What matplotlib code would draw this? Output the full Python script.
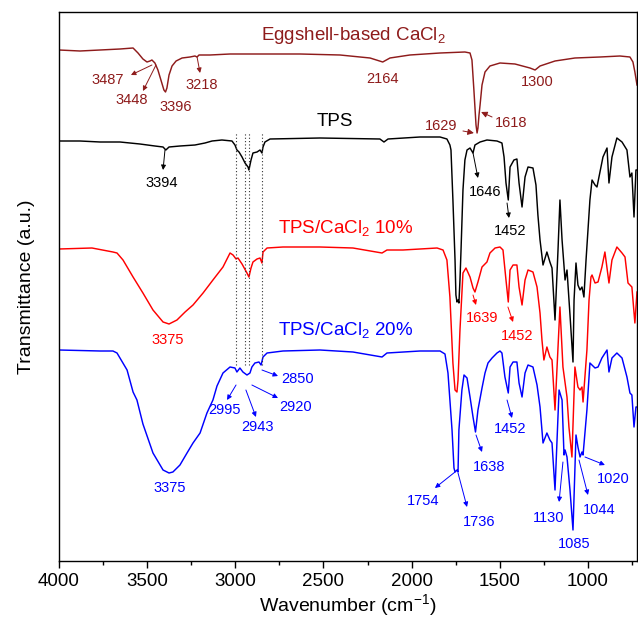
import numpy as np
import matplotlib
matplotlib.use("Agg")
import matplotlib.pyplot as plt

plt.rcParams['font.family'] = ['Liberation Sans', 'DejaVu Sans']
plt.rcParams['mathtext.default'] = 'regular'

# ---------------- data (wavenumber cm-1, transmittance a.u.) ----------------
egg_w = [4000, 3881, 3767, 3654, 3580, 3552, 3524, 3501, 3484, 3473, 3456, 3439, 3422, 3405,
         3396, 3388, 3376, 3359, 3336, 3302, 3257, 3229, 3217, 3206, 3144, 3030, 2860, 2633,
         2406, 2236, 2164, 2123, 2010, 1839, 1698, 1669, 1658, 1647, 1635, 1629, 1624, 1618,
         1612, 1601, 1584, 1556, 1499, 1414, 1329, 1300, 1272, 1187, 1074, 932, 819, 762,
         745, 734, 722]
egg_t = [511, 510, 511, 512, 513, 508, 502, 499, 500, 501, 498, 491, 481, 471,
         469, 473, 486, 495, 500, 503, 504, 505, 504, 506, 506, 507, 507, 507,
         506, 503, 499, 503, 506, 508, 509, 508, 501, 471, 436, 428, 433, 446,
         456, 476, 489, 495, 498, 497, 493, 491, 495, 500, 503, 504, 505, 504,
         499, 489, 476]

tps_w = [4000, 3881, 3767, 3654, 3541, 3456, 3410, 3394, 3376, 3314, 3229, 3172, 3132, 3076,
         3019, 3002, 2991, 2979, 2962, 2945, 2928, 2923, 2911, 2900, 2877, 2860, 2849, 2843,
         2832, 2803, 2520, 2180, 2157, 2134, 1953, 1839, 1800, 1783, 1777, 1766, 1754, 1749,
         1743, 1737, 1732, 1726, 1720, 1709, 1698, 1686, 1669, 1652, 1641, 1612, 1573, 1516,
         1488, 1476, 1465, 1452, 1442, 1420, 1403, 1391, 1374, 1357, 1340, 1312, 1295, 1284,
         1272, 1255, 1233, 1216, 1204, 1187, 1170, 1159, 1147, 1130, 1119, 1102, 1085, 1079,
         1068, 1057, 1045, 1034, 1023, 1011, 1000, 989, 977, 960, 949, 932, 915, 892, 881,
         864, 836, 807, 779, 762, 751, 739, 728, 722]
tps_t = [420, 420, 419, 419, 417, 415, 414, 411, 414, 415, 416, 418, 420, 421,
         420, 416, 411, 409, 404, 398, 394, 391, 401, 408, 409, 411, 408, 414,
         419, 422, 423, 422, 419, 422, 424, 424, 422, 416, 411, 361, 301, 266,
         259, 261, 258, 281, 311, 371, 401, 411, 413, 408, 416, 419, 421, 420,
         418, 404, 378, 361, 394, 401, 402, 378, 354, 384, 394, 393, 376, 346,
         321, 296, 309, 299, 293, 241, 311, 361, 321, 281, 291, 246, 199, 261,
         298, 276, 271, 274, 264, 301, 331, 361, 381, 376, 374, 389, 404, 413, 378,
         404, 423, 419, 411, 384, 388, 344, 391, 391]

r10_w = [4000, 3813, 3694, 3671, 3637, 3580, 3524, 3467, 3410, 3376, 3331, 3285, 3240, 3183,
         3127, 3070, 3030, 3013, 2996, 2985, 2962, 2934, 2923, 2911, 2900, 2877, 2860, 2849,
         2843, 2820, 2730, 2520, 2333, 2168, 2140, 2049, 1856, 1822, 1800, 1783, 1766, 1754,
         1743, 1737, 1726, 1709, 1692, 1669, 1652, 1641, 1624, 1601, 1573, 1556, 1527, 1499,
         1482, 1465, 1452, 1442, 1425, 1403, 1391, 1374, 1357, 1340, 1312, 1289, 1272, 1261,
         1250, 1233, 1216, 1204, 1187, 1159, 1142, 1119, 1108, 1091, 1074, 1057, 1045, 1034,
         1028, 1006, 994, 983, 977, 960, 943, 921, 904, 881, 864, 836, 807, 790, 773, 751,
         734, 722]
r10_t = [312, 313, 309, 308, 301, 284, 268, 251, 239, 237, 241, 249, 256, 268,
         281, 294, 308, 306, 302, 303, 297, 288, 284, 293, 299, 302, 303, 298,
         309, 313, 314, 314, 313, 308, 311, 311, 313, 311, 301, 264, 198, 171,
         169, 181, 231, 288, 293, 284, 273, 269, 279, 294, 299, 308, 313, 314,
         311, 281, 259, 291, 296, 296, 274, 256, 281, 291, 289, 274, 248, 221,
         201, 214, 204, 201, 151, 254, 194, 164, 134, 104, 194, 174, 171, 174,
         159, 211, 261, 284, 286, 278, 279, 294, 309, 278, 301, 314, 308, 304, 278, 274,
         238, 269]

r20_w = [4000, 3767, 3694, 3671, 3614, 3580, 3558, 3524, 3467, 3410, 3376, 3354, 3314, 3274,
         3240, 3200, 3161, 3127, 3104, 3070, 3030, 3002, 2991, 2974, 2957, 2934, 2917, 2906,
         2889, 2866, 2854, 2843, 2820, 2730, 2520, 2333, 2168, 2140, 1953, 1839, 1811, 1794,
         1771, 1760, 1754, 1743, 1737, 1732, 1715, 1703, 1686, 1669, 1652, 1638, 1624, 1601,
         1584, 1567, 1544, 1516, 1499, 1488, 1471, 1452, 1442, 1425, 1403, 1391, 1374, 1357,
         1340, 1312, 1289, 1272, 1255, 1233, 1216, 1204, 1187, 1164, 1147, 1136, 1130, 1119,
         1102, 1085, 1068, 1057, 1045, 1034, 1028, 1006, 989, 960, 943, 921, 892, 881, 864,
         836, 807, 779, 762, 751, 739, 728, 722]
r20_t = [211, 210, 210, 208, 191, 169, 161, 137, 108, 91, 88, 89, 96, 108,
         118, 128, 148, 161, 175, 188, 194, 193, 189, 193, 189, 186, 188, 194,
         198, 199, 196, 204, 208, 210, 211, 209, 204, 208, 210, 210, 207, 188,
         131, 93, 89, 91, 89, 131, 171, 186, 183, 164, 144, 129, 151, 173,
         188, 198, 203, 208, 210, 208, 184, 168, 194, 199, 199, 178, 164, 188,
         196, 194, 176, 154, 118, 128, 121, 118, 71, 171, 161, 106, 111, 104,
         71, 31, 126, 114, 104, 109, 106, 151, 198, 193, 194, 203, 211, 189, 203,
         208, 203, 184, 168, 166, 134, 154, 154]

dotted_w = [2995, 2943, 2920, 2850]

series_names = ['Eggshell-based CaCl$_2$', 'TPS', 'TPS/CaCl$_2$ 10%', 'TPS/CaCl$_2$ 20%']
colors = ['#8E1B1B', '#000000', '#FF0000', '#0000FF']

# ---------------- figure ----------------
fig = plt.figure(figsize=(6.38, 6.19), dpi=100)
ax = fig.add_axes([59/638, 1 - 561/619, (637 - 59)/638, (561 - 12)/619])

for w, t, c in zip([egg_w, tps_w, r10_w, r20_w], [egg_t, tps_t, r10_t, r20_t], colors):
    ax.plot(w, t, color=c, lw=1.05, solid_joinstyle='round')

for d in dotted_w:
    ax.plot([d, d], [196, 429], color='#333333', lw=0.8, ls=(0, (1, 2)))

ax.set_xlim(4000, 722)
ax.set_ylim(0, 549)
ax.set_xticks([4000, 3500, 3000, 2500, 2000, 1500, 1000])
ax.set_xticks(np.arange(3750, 722, -500), minor=True)
ax.tick_params(axis='x', which='major', direction='out', length=5, width=1, labelsize=13.5)
ax.tick_params(axis='x', which='minor', direction='out', length=3, width=1)
ax.set_yticks([])
for s in ax.spines.values():
    s.set_linewidth(1.0)
ax.set_xlabel('Wavenumber (cm$^{-1}$)', fontsize=14, labelpad=2)
ax.set_ylabel('Transmittance (a.u.)', fontsize=14, labelpad=17)

# series labels
ax.text(2330, 526, series_names[0], color=colors[0], fontsize=13.5, ha='center', va='center')
ax.text(2435, 439, series_names[1], color=colors[1], fontsize=13.5, ha='center', va='center')
ax.text(2372, 333, series_names[2], color=colors[2], fontsize=13.5, ha='center', va='center')
ax.text(2372, 231, series_names[3], color=colors[3], fontsize=13.5, ha='center', va='center')

def lab(s, x, y, c):
    ax.text(x, y, s, color=c, fontsize=10.5, ha='center', va='center')

def arr(tail, head, c, lw=0.7, ms=7):
    ax.annotate('', xy=head, xytext=tail,
                arrowprops=dict(arrowstyle='-|>', color=c, lw=lw, mutation_scale=ms,
                                shrinkA=0, shrinkB=0))

ce, cb, cr, cu = colors
# eggshell
lab('3487', 3722, 481, ce); arr((3473, 496), (3592, 486), ce)
lab('3448', 3586, 461, ce); arr((3450, 496), (3524, 470), ce)
lab('3396', 3336, 454, ce)
lab('3218', 3189, 476, ce); arr((3217, 504), (3200, 488), ce)
lab('2164', 2168, 482, ce)
lab('1300', 1289, 479, ce)
lab('1629', 1834, 435, ce); arr((1709, 430), (1647, 428), ce, ms=9)
lab('1618', 1437, 438, ce); arr((1544, 444), (1606, 449), ce, ms=9)
# TPS
lab('3394', 3416, 378, cb); arr((3399, 411), (3410, 391), cb)
lab('1646', 1584, 369, cb); arr((1652, 408), (1624, 383), cb)
lab('1452', 1442, 330, cb); arr((1459, 358), (1448, 343), cb)
# 10%
lab('3375', 3382, 221, cr)
lab('1639', 1601, 243, cr); arr((1652, 266), (1635, 256), cr)
lab('1452', 1403, 225, cr); arr((1454, 254), (1425, 239), cr)
# 20%
lab('3375', 3371, 73, cu)
lab('2850', 2645, 182, cu); arr((2849, 191), (2758, 185), cu)
lab('2920', 2656, 154, cu); arr((2906, 176), (2758, 163), cu)
lab('2995', 3064, 151, cu); arr((2996, 176), (3047, 161), cu)
lab('2943', 2877, 134, cu); arr((2940, 171), (2883, 144), cu)
lab('1452', 1442, 132, cu); arr((1459, 161), (1431, 143), cu)
lab('1638', 1561, 94, cu); arr((1635, 126), (1601, 109), cu)
lab('1754', 1936, 60, cu); arr((1754, 89), (1868, 73), cu)
lab('1736', 1618, 39, cu); arr((1737, 88), (1686, 54), cu)
lab('1130', 1221, 43, cu); arr((1142, 99), (1164, 59), cu)
lab('1085', 1079, 17, cu)
lab('1044', 938, 51, cu); arr((1051, 101), (1000, 66), cu)
lab('1020', 858, 82, cu); arr((1017, 104), (904, 96), cu)

fig.savefig('out.png', dpi=100)
